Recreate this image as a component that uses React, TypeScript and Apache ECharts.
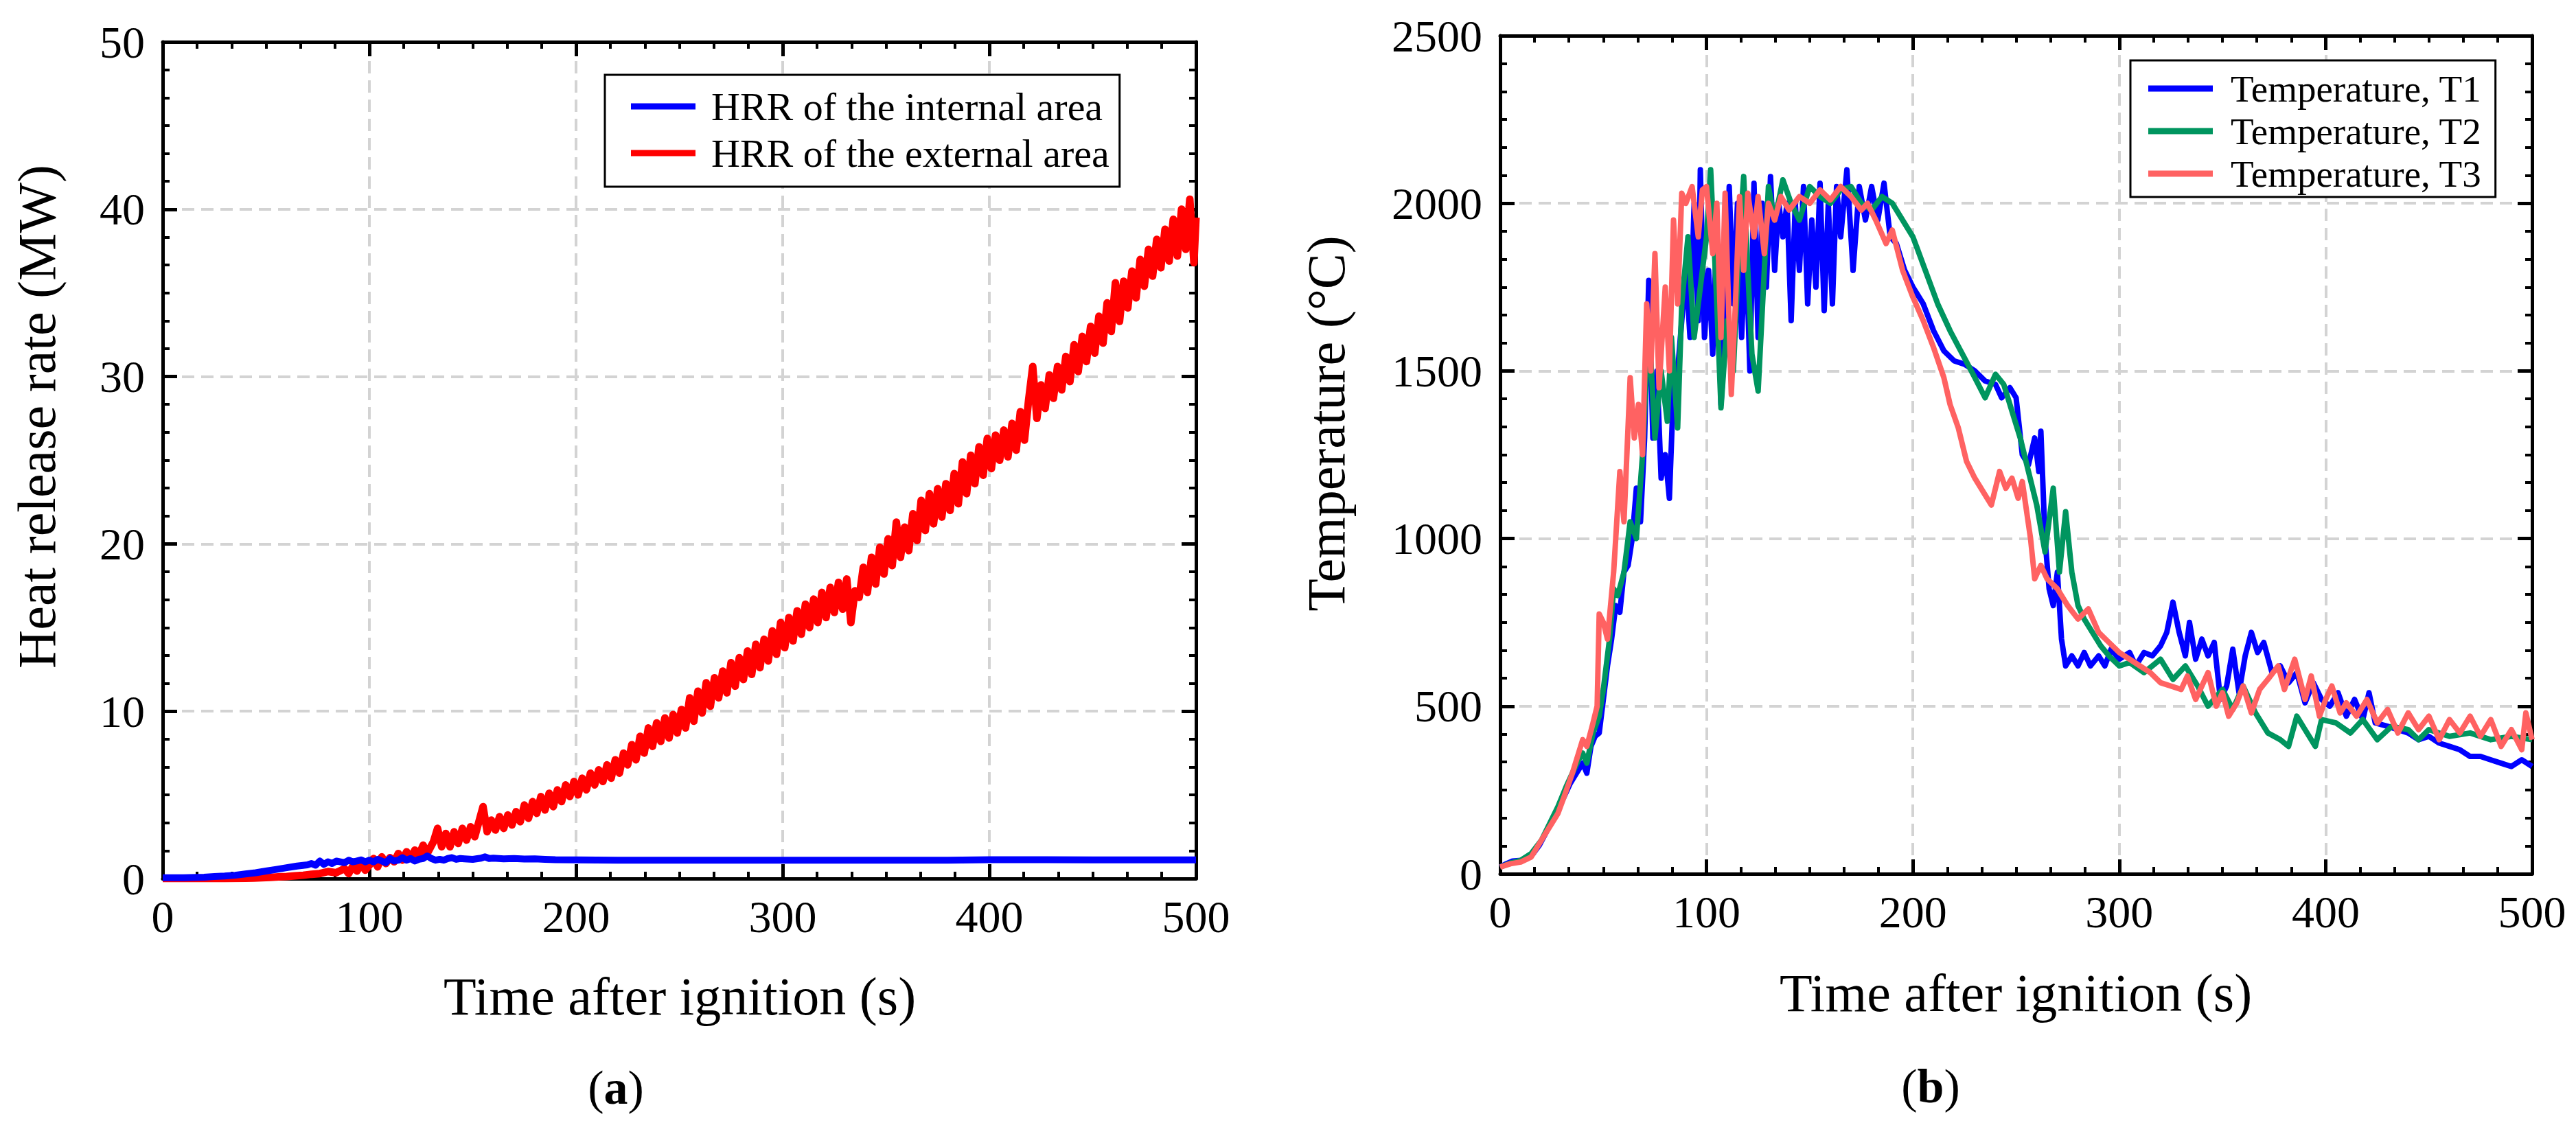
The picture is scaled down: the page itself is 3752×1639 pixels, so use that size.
import { useEffect, useRef } from 'react';
import * as echarts from 'echarts';

const FONT = 'Liberation Serif';

const X_TICKS = [0, 100, 200, 300, 400, 500];
const HRR_TICKS = [0, 10, 20, 30, 40, 50];
const TEMP_TICKS = [0, 500, 1000, 1500, 2000, 2500];

const HRR_NAMES = ['HRR of the internal area', 'HRR of the external area'];
const TEMP_NAMES = ['Temperature, T1', 'Temperature, T2', 'Temperature, T3'];

// (a) heat release rate, MW  [time s, value]
const hrrInternal = [
  [0, 0.05], [10, 0.05], [20, 0.08], [25, 0.12], [30, 0.15], [35, 0.2], [40, 0.28], [45, 0.35],
  [50, 0.45], [55, 0.55], [60, 0.65], [65, 0.75], [70, 0.82], [72, 0.9], [74, 0.8], [76, 1.05],
  [78, 0.85], [80, 1.0], [82, 0.9], [84, 1.05], [86, 1.0], [88, 0.95], [90, 1.1], [92, 1.0],
  [94, 1.05], [96, 1.12], [98, 1.0], [100, 1.1], [102, 1.0], [104, 1.15], [106, 1.05], [108, 0.95],
  [110, 1.2], [112, 1.05], [114, 1.1], [116, 1.25], [118, 1.1], [120, 1.2], [122, 1.05], [124, 1.15],
  [126, 1.2], [128, 1.35], [130, 1.2], [132, 1.1], [134, 1.15], [136, 1.1], [138, 1.2], [140, 1.25],
  [142, 1.15], [144, 1.2], [146, 1.18], [150, 1.15], [154, 1.22], [156, 1.3], [158, 1.2], [160, 1.22],
  [165, 1.18], [170, 1.2], [175, 1.17], [180, 1.18], [185, 1.15], [190, 1.13], [200, 1.12], [220, 1.1],
  [250, 1.1], [300, 1.1], [350, 1.1], [380, 1.1], [400, 1.13], [450, 1.12], [500, 1.12],
];

const hrrExternal = [
  [0, 0], [10, 0], [20, 0], [30, 0], [40, 0.02], [44, 0.03], [48, 0.05], [52, 0.07], [56, 0.1],
  [60, 0.12], [64, 0.16], [68, 0.2], [72, 0.26], [76, 0.3], [80, 0.42], [84, 0.35], [88, 0.6],
  [90, 0.3], [92, 0.75], [94, 0.45], [96, 0.9], [98, 0.5], [100, 0.8], [102, 1.2], [104, 0.7],
  [106, 1.3], [108, 0.9], [110, 1.25], [112, 1.0], [114, 1.5], [116, 1.1], [118, 1.6], [120, 1.2],
  [122, 1.7], [124, 1.4], [126, 2.0], [128, 1.5], [131, 2.2], [133, 3.0], [135, 1.9], [137, 2.7],
  [139, 1.9], [141, 2.8], [143, 2.1], [145, 3.0], [147, 2.3], [149, 3.1], [151, 2.5], [153, 3.4],
  [155, 4.3], [157, 2.8], [159, 3.5], [161, 2.9], [163, 3.7], [165, 3.0], [167, 3.8], [169, 3.2],
  [171, 4.0], [173, 3.4], [175, 4.4], [177, 3.6], [179, 4.6], [181, 3.9], [183, 4.9], [185, 4.1],
  [187, 5.1], [189, 4.3], [191, 5.3], [193, 4.6], [195, 5.6], [197, 4.9], [199, 5.8], [201, 5.0],
  [203, 6.0], [205, 5.3], [207, 6.3], [209, 5.6], [211, 6.5], [213, 5.8], [215, 6.8], [217, 6.0],
  [219, 7.1], [221, 6.3], [223, 7.5], [225, 6.8], [227, 8.0], [229, 7.1], [231, 8.5], [233, 7.5],
  [235, 9.0], [237, 7.9], [239, 9.3], [241, 8.2], [243, 9.6], [245, 8.4], [247, 9.8], [249, 8.7],
  [251, 10.1], [253, 9.0], [255, 10.8], [257, 9.4], [259, 11.2], [261, 9.9], [263, 11.7], [265, 10.3],
  [267, 12.0], [269, 10.8], [271, 12.4], [273, 11.1], [275, 12.9], [277, 11.5], [279, 13.2], [281, 11.9],
  [283, 13.6], [285, 12.2], [287, 14.0], [289, 12.6], [291, 14.3], [293, 13.0], [295, 14.8], [297, 13.4],
  [299, 15.3], [301, 13.8], [303, 15.6], [305, 14.2], [307, 16.0], [309, 14.6], [311, 16.4], [313, 15.0],
  [315, 16.7], [317, 15.3], [319, 17.1], [321, 15.6], [323, 17.4], [325, 15.9], [327, 17.7], [329, 16.1],
  [331, 17.9], [333, 15.3], [335, 17.2], [337, 16.8], [339, 18.6], [341, 17.1], [343, 19.2], [345, 17.6],
  [347, 19.8], [349, 18.2], [351, 20.3], [353, 18.7], [355, 21.3], [357, 19.2], [359, 21.0], [361, 19.6],
  [363, 21.8], [365, 20.2], [367, 22.6], [369, 20.8], [371, 23.0], [373, 21.2], [375, 23.3], [377, 21.6],
  [379, 23.6], [381, 22.0], [383, 24.2], [385, 22.4], [387, 24.9], [389, 23.0], [391, 25.3], [393, 23.6],
  [395, 25.8], [397, 24.1], [399, 26.3], [401, 24.5], [403, 26.5], [405, 25.0], [407, 26.8], [409, 25.2],
  [411, 27.2], [413, 25.6], [415, 27.9], [417, 26.2], [419, 28.6], [421, 30.6], [423, 27.5], [425, 29.5],
  [427, 28.1], [429, 30.1], [431, 28.7], [433, 30.6], [435, 29.2], [437, 31.2], [439, 29.7], [441, 31.9],
  [443, 30.3], [445, 32.4], [447, 30.9], [449, 33.0], [451, 31.4], [453, 33.6], [455, 32.0], [457, 34.4],
  [459, 32.7], [461, 35.6], [463, 33.3], [465, 35.7], [467, 34.1], [469, 36.3], [471, 34.7], [473, 37.0],
  [475, 35.4], [477, 37.6], [479, 36.0], [481, 38.2], [483, 36.5], [485, 38.8], [487, 36.9], [489, 39.4],
  [491, 37.2], [493, 40.0], [495, 37.6], [497, 40.6], [499, 36.8], [500, 39.5],
];

// (b) temperatures, °C  [time s, value]
const tempT1 = [
  [0, 20], [3, 30], [6, 38], [10, 40], [13, 45], [16, 60], [19, 85], [22, 120], [25, 160], [28, 190],
  [31, 230], [34, 270], [37, 300], [40, 330], [42, 300], [44, 380], [46, 410], [48, 420], [50, 520],
  [52, 620], [54, 700], [56, 800], [58, 780], [60, 900], [62, 920], [64, 1000], [66, 1150], [68, 1050],
  [70, 1300], [72, 1770], [74, 1300], [76, 1500], [78, 1180], [80, 1250], [82, 1120], [84, 1450],
  [86, 1500], [88, 1650], [90, 1800], [92, 1600], [94, 2000], [96, 1650], [97, 2100], [99, 1600],
  [101, 1800], [103, 1550], [105, 1950], [107, 1400], [109, 1600], [111, 2050], [113, 1700], [115, 2000],
  [117, 1600], [119, 1900], [121, 1500], [123, 2060], [125, 1600], [127, 2000], [129, 1750], [131, 2080],
  [133, 1800], [135, 2000], [137, 1900], [139, 2000], [141, 1650], [143, 2000], [145, 1800], [147, 2050],
  [149, 1700], [151, 1950], [153, 1750], [155, 2060], [157, 1680], [159, 2000], [161, 1700], [163, 2050],
  [165, 1900], [168, 2100], [171, 1800], [174, 2050], [177, 1950], [180, 2050], [183, 1950], [186, 2060],
  [189, 1900], [192, 1880], [196, 1800], [200, 1750], [205, 1700], [210, 1620], [215, 1560], [220, 1530],
  [225, 1520], [230, 1500], [235, 1470], [240, 1460], [243, 1420], [247, 1450], [250, 1420], [253, 1250],
  [256, 1220], [259, 1300], [261, 1200], [262, 1320], [264, 1000], [266, 850], [268, 800], [270, 900],
  [272, 700], [274, 620], [277, 650], [280, 620], [283, 660], [286, 620], [290, 650], [293, 620],
  [296, 670], [300, 640], [305, 660], [308, 620], [312, 660], [316, 650], [320, 680], [323, 720],
  [326, 810], [329, 720], [332, 650], [334, 750], [337, 640], [340, 700], [343, 650], [346, 690],
  [349, 520], [352, 560], [355, 670], [358, 540], [361, 650], [364, 720], [367, 660], [370, 690],
  [374, 600], [378, 620], [382, 570], [386, 600], [390, 510], [394, 570], [398, 520], [402, 500],
  [406, 540], [410, 470], [414, 520], [418, 460], [421, 540], [424, 450], [430, 440], [435, 430],
  [440, 420], [445, 400], [450, 410], [455, 390], [460, 380], [465, 370], [470, 350], [475, 350],
  [480, 340], [485, 330], [490, 320], [495, 340], [500, 320],
];

const tempT2 = [
  [0, 20], [5, 32], [10, 40], [15, 60], [20, 100], [24, 150], [28, 200], [32, 260], [35, 300],
  [38, 340], [40, 360], [42, 330], [45, 420], [48, 470], [50, 550], [53, 700], [55, 850], [57, 830],
  [60, 900], [63, 1050], [66, 1000], [69, 1250], [72, 1650], [75, 1300], [78, 1500], [81, 1350],
  [83, 1600], [86, 1330], [88, 1700], [91, 1900], [94, 1600], [97, 1750], [100, 1900], [102, 2100],
  [105, 1700], [107, 1390], [110, 1650], [113, 1500], [116, 1900], [118, 2080], [120, 1800],
  [122, 1550], [125, 1440], [128, 1800], [130, 2050], [133, 1950], [137, 2070], [141, 2000],
  [145, 1950], [150, 2050], [155, 2020], [160, 2000], [165, 2040], [170, 2050], [175, 2000],
  [180, 1980], [185, 2020], [190, 2000], [195, 1950], [200, 1900], [206, 1800], [212, 1700],
  [218, 1620], [224, 1550], [230, 1480], [235, 1420], [240, 1490], [244, 1460], [248, 1380],
  [252, 1300], [256, 1200], [260, 1100], [264, 960], [268, 1150], [271, 900], [274, 1080],
  [277, 900], [280, 800], [283, 760], [287, 720], [291, 680], [295, 650], [300, 620], [305, 630],
  [312, 600], [320, 640], [326, 580], [332, 620], [338, 560], [343, 500], [350, 550], [355, 490],
  [360, 560], [366, 480], [372, 420], [378, 400], [382, 380], [386, 470], [390, 430], [395, 380],
  [398, 460], [405, 450], [412, 420], [418, 460], [425, 400], [432, 440], [440, 430], [445, 400],
  [450, 430], [460, 410], [470, 420], [480, 400], [490, 410], [500, 400],
];

const tempT3 = [
  [0, 20], [5, 30], [10, 35], [15, 50], [20, 100], [24, 140], [28, 180], [31, 230], [35, 300],
  [38, 360], [40, 400], [42, 380], [45, 450], [47, 500], [48, 775], [50, 750], [52, 700], [55, 900],
  [57, 1100], [58, 1200], [60, 1050], [63, 1480], [65, 1300], [67, 1400], [69, 1250], [71, 1700],
  [73, 1500], [75, 1850], [77, 1450], [80, 1750], [82, 1500], [84, 1950], [86, 1700], [88, 2030],
  [90, 2000], [93, 2050], [96, 1900], [98, 2040], [100, 2050], [103, 1850], [105, 2000], [107, 1600],
  [109, 2030], [112, 1430], [114, 1700], [116, 2020], [118, 1800], [120, 2030], [123, 1900],
  [125, 2020], [128, 1850], [130, 2000], [133, 1950], [136, 2020], [140, 1980], [145, 2020],
  [150, 2000], [155, 2040], [160, 2010], [165, 2050], [170, 2020], [175, 1980], [178, 2000],
  [182, 1950], [187, 1880], [190, 1920], [195, 1800], [200, 1720], [205, 1650], [210, 1570],
  [215, 1480], [218, 1400], [222, 1330], [226, 1230], [230, 1180], [235, 1130], [238, 1100],
  [242, 1200], [245, 1150], [248, 1180], [251, 1120], [253, 1170], [257, 1000], [259, 880],
  [262, 920], [265, 880], [270, 850], [275, 800], [280, 760], [285, 790], [290, 720], [295, 690],
  [300, 660], [305, 640], [310, 620], [315, 600], [320, 570], [325, 560], [330, 550], [333, 590],
  [337, 520], [340, 560], [343, 600], [347, 500], [350, 540], [353, 470], [357, 510], [360, 560],
  [364, 480], [368, 550], [372, 580], [377, 620], [380, 550], [385, 640], [390, 520], [393, 590],
  [397, 470], [400, 520], [403, 560], [407, 480], [410, 510], [415, 470], [420, 520], [425, 450],
  [430, 490], [435, 420], [440, 480], [445, 430], [450, 470], [455, 400], [460, 460], [465, 420],
  [470, 470], [475, 410], [480, 460], [485, 380], [490, 430], [495, 370], [497, 480], [500, 400],
];

const GRIDS = [
  { left: 237, top: 61, width: 1505, height: 1219 },
  { left: 2185, top: 52, width: 1503, height: 1221 },
];

function axisPair(kind: 'x' | 'y', gridIndex: number, ticks: number[], primary: boolean) {
  const min = ticks[0];
  const max = ticks[ticks.length - 1];
  return {
    type: 'value',
    gridIndex,
    min,
    max,
    interval: ticks[1] - ticks[0],
    position: kind === 'x' ? (primary ? 'bottom' : 'top') : primary ? 'left' : 'right',
    axisLine: { show: true, onZero: false, lineStyle: { color: '#000', width: 5 } },
    axisTick: { show: true, inside: true, length: 21, lineStyle: { color: '#000', width: 5 } },
    minorTick: { show: true, splitNumber: 6, length: 10, lineStyle: { color: '#000', width: 4 } },
    axisLabel: {
      show: primary,
      fontSize: 66,
      fontFamily: FONT,
      color: '#000',
      margin: kind === 'x' ? 22 : 26,
      formatter: (v: number) => String(v),
    },
    splitLine: {
      show: primary,
      lineStyle: { color: '#d3d3d3', width: 4, type: [18, 10] },
    },
  };
}

function legendBox(names: string[], left: number, top: number, fontSize: number, lineHeight: number, gap: number, padding: number[], textPad: number) {
  return {
    data: names,
    left,
    top,
    orient: 'vertical',
    icon: 'rect',
    itemWidth: 94,
    itemHeight: 9,
    itemGap: gap,
    padding,
    borderColor: '#000',
    borderWidth: 3,
    backgroundColor: '#fff',
    selectedMode: false,
    textStyle: { fontSize, fontFamily: FONT, color: '#000', lineHeight, padding: [0, 0, 0, textPad] },
  };
}

function lineSeries(name: string, data: number[][], color: string, idx: number, width: number) {
  return {
    name,
    type: 'line',
    xAxisIndex: idx,
    yAxisIndex: idx,
    data,
    color,
    symbol: 'none',
    showSymbol: false,
    lineStyle: { width, color, join: 'round' },
  };
}

function title(text: string, x: number, y: number, rotate = false) {
  return {
    type: 'text',
    x,
    y,
    rotation: rotate ? Math.PI / 2 : 0,
    style: { text, fontSize: 78, fontFamily: FONT, fill: '#000', align: 'center', verticalAlign: 'middle' },
  };
}

function panelLabel(letter: string, x: number, y: number) {
  return {
    type: 'text',
    x,
    y,
    style: {
      text: '({b|' + letter + '})',
      fontSize: 70,
      fontFamily: FONT,
      fill: '#000',
      align: 'center',
      verticalAlign: 'middle',
      rich: { b: { fontSize: 70, fontFamily: FONT, fontWeight: 'bold', fill: '#000' } },
    },
  };
}

export default function App() {
  const chartRef = useRef<HTMLDivElement>(null);

  useEffect(() => {
    if (!chartRef.current) return;
    const chart = echarts.init(chartRef.current, null, { renderer: 'svg' });

    const option = {
      animation: false,
      backgroundColor: '#fff',
      textStyle: { fontFamily: FONT },
      grid: GRIDS.map((g) => ({ ...g, containLabel: false })),
      xAxis: [
        axisPair('x', 0, X_TICKS, true),
        axisPair('x', 1, X_TICKS, true),
        axisPair('x', 0, X_TICKS, false),
        axisPair('x', 1, X_TICKS, false),
      ],
      yAxis: [
        axisPair('y', 0, HRR_TICKS, true),
        axisPair('y', 1, TEMP_TICKS, true),
        axisPair('y', 0, HRR_TICKS, false),
        axisPair('y', 1, TEMP_TICKS, false),
      ],
      legend: [
        legendBox(HRR_NAMES, 881, 109, 58, 60, 8, [16, 15, 19, 38], 18),
        legendBox(TEMP_NAMES, 3103, 88, 55, 56, 6, [13, 20, 6, 26], 21),
      ],
      series: [
        lineSeries(HRR_NAMES[1], hrrExternal, '#ff0000', 0, 11),
        lineSeries(HRR_NAMES[0], hrrInternal, '#0000ff', 0, 10),
        lineSeries(TEMP_NAMES[0], tempT1, '#0000ff', 1, 8),
        lineSeries(TEMP_NAMES[1], tempT2, '#00955f', 1, 8),
        lineSeries(TEMP_NAMES[2], tempT3, '#ff6262', 1, 8),
      ],
      graphic: [
        title('Time after ignition (s)', 990, 1451),
        title('Heat release rate (MW)', 53, 607, true),
        title('Time after ignition (s)', 2936, 1446),
        title('Temperature (°C)', 1931, 617, true),
        panelLabel('a', 897, 1584),
        panelLabel('b', 2812, 1582),
      ],
    };

    chart.setOption(option as any);

    const onResize = () => chart.resize();
    window.addEventListener('resize', onResize);
    return () => {
      window.removeEventListener('resize', onResize);
      chart.dispose();
    };
  }, []);

  return (
    <div
      ref={chartRef}
      style={{ position: 'fixed', left: 0, top: 0, width: '100vw', height: '100vh', background: '#fff' }}
    ></div>
  );
}
